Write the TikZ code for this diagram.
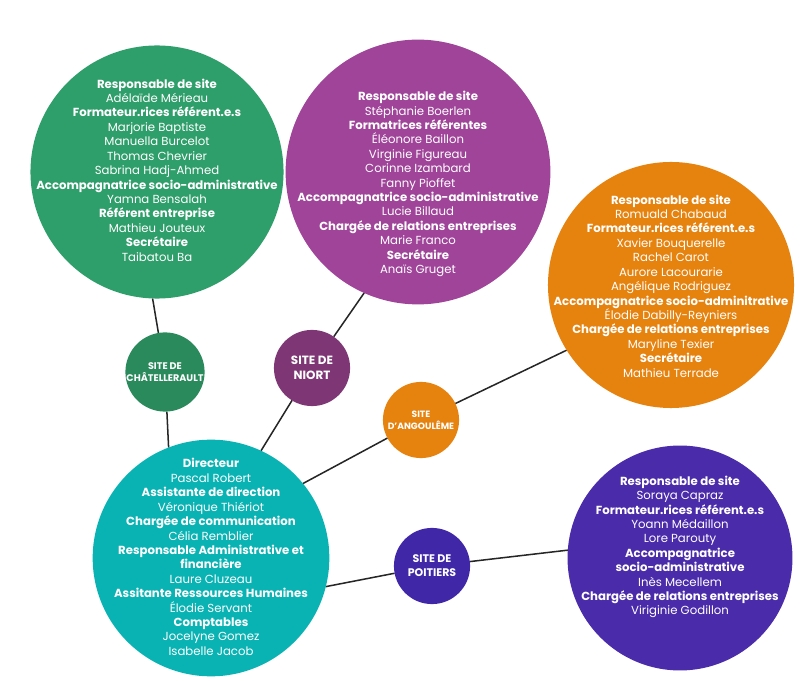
\documentclass[tikz,border=0pt]{standalone}
\usepackage{fontspec}
\setmainfont{Poppins}
\usetikzlibrary{backgrounds}
\definecolor{cgreen}{HTML}{2E9E6A}
\definecolor{cgreend}{HTML}{2A8A5C}
\definecolor{cpurple}{HTML}{A0449A}
\definecolor{cpurpled}{HTML}{7E3675}
\definecolor{corange}{HTML}{E6820E}
\definecolor{cteal}{HTML}{0AB3B3}
\definecolor{cindigo}{HTML}{4A2BAA}
\definecolor{cindigod}{HTML}{3F27A8}
\tikzset{
  big/.style={circle,inner sep=0pt,outer sep=0pt},
  txt/.style={text=white,align=center,font=\fontsize{10}{12.3}\selectfont},
  small/.style={circle,inner sep=0pt,outer sep=0pt,minimum size=65pt,text=white,align=center,font=\fontsize{8.2}{9.8}\selectfont\bfseries},
  link/.style={line width=1.3pt,black!85}
}
\begin{document}
\begin{tikzpicture}[x=0.03cm,y=-0.03cm]
\useasboundingbox (0,0) rectangle (800,681);
\node[big,fill=cgreen,minimum size=216pt] (green) at (157,172) {};
\node[txt] (gt) at (157,170) {\textbf{Responsable de site}\\Adélaïde Mérieau\\\textbf{Formateur.rices référent.e.s}\\Marjorie Baptiste\\Manuella Burcelot\\Thomas Chevrier\\Sabrina Hadj-Ahmed\\\textbf{Accompagnatrice socio-administrative}\\Yamna Bensalah\\\textbf{Référent entreprise}\\Mathieu Jouteux\\\textbf{Secrétaire}\\Taibatou Ba};
\node[big,fill=cpurple,minimum size=226pt] (purple) at (418,172) {};
\node[txt] (pt) at (418,184) {\textbf{Responsable de site}\\Stéphanie Boerlen\\\textbf{Formatrices référentes}\\Éléonore Baillon\\Virginie Figureau\\Corinne Izambard\\Fanny Pioffet\\\textbf{Accompagnatrice socio-administrative}\\Lucie Billaud\\\textbf{Chargée de relations entreprises}\\Marie Franco\\\textbf{Secrétaire}\\Anaïs Gruget};
\node[big,fill=corange,minimum size=210pt] (orange) at (671,285) {};
\node[txt] (ot) at (671,286) {\textbf{Responsable de site}\\Romuald Chabaud\\\textbf{Formateur.rices référent.e.s}\\Xavier Bouquerelle\\Rachel Carot\\Aurore Lacourarie\\Angélique Rodriguez\\\textbf{Accompagnatrice socio-adminitrative}\\Élodie Dabilly-Reyniers\\\textbf{Chargée de relations entreprises}\\Maryline Texier\\\textbf{Secrétaire}\\Mathieu Terrade};
\node[big,fill=cteal,minimum size=202pt] (teal) at (211,558) {};
\node[txt] (tt) at (211,557) {\textbf{Directeur}\\Pascal Robert\\\textbf{Assistante de direction}\\Véronique Thiériot\\\textbf{Chargée de communication}\\Célia Remblier\\\textbf{Responsable Administrative et}\\\textbf{financière}\\Laure Cluzeau\\\textbf{Assitante Ressources Humaines}\\Élodie Servant\\\textbf{Comptables}\\Jocelyne Gomez\\Isabelle Jacob};
\node[big,fill=cindigo,minimum size=192pt] (indigo) at (680,558) {};
\node[txt] (it) at (680,547) {\textbf{Responsable de site}\\Soraya Capraz\\\textbf{Formateur.rices référent.e.s}\\Yoann Médaillon\\Lore Parouty\\\textbf{Accompagnatrice}\\\textbf{socio-administrative}\\Inès Mecellem\\\textbf{Chargée de relations entreprises}\\Viriginie Godillon};
\node[small,fill=cgreend] (chat) at (165,372) {SITE DE\\CHÂTELLERAULT};
\node[small,fill=cpurpled,font=\fontsize{10.2}{13}\selectfont\bfseries] (niort) at (312,368) {SITE DE\\NIORT};
\node[small,fill=corange,font=\fontsize{7.8}{10}\selectfont\bfseries] (ang) at (421,420) {SITE\\D'ANGOULÊME};
\node[small,fill=cindigod,font=\fontsize{9.4}{12}\selectfont\bfseries] (poit) at (432,566) {SITE DE\\POITIERS};
\begin{scope}[on background layer]
\draw[link] (green.268) -- (chat);
\draw[link] (chat) -- (teal.111);
\draw[link] (purple.246) -- (niort);
\draw[link] (niort) -- (teal.65);
\draw[link] (orange.212) -- (ang);
\draw[link] (ang) -- (teal.39);
\draw[link] (teal.-14) -- (poit);
\draw[link] (poit) -- (indigo.176);
\end{scope}
\end{tikzpicture}
\end{document}
